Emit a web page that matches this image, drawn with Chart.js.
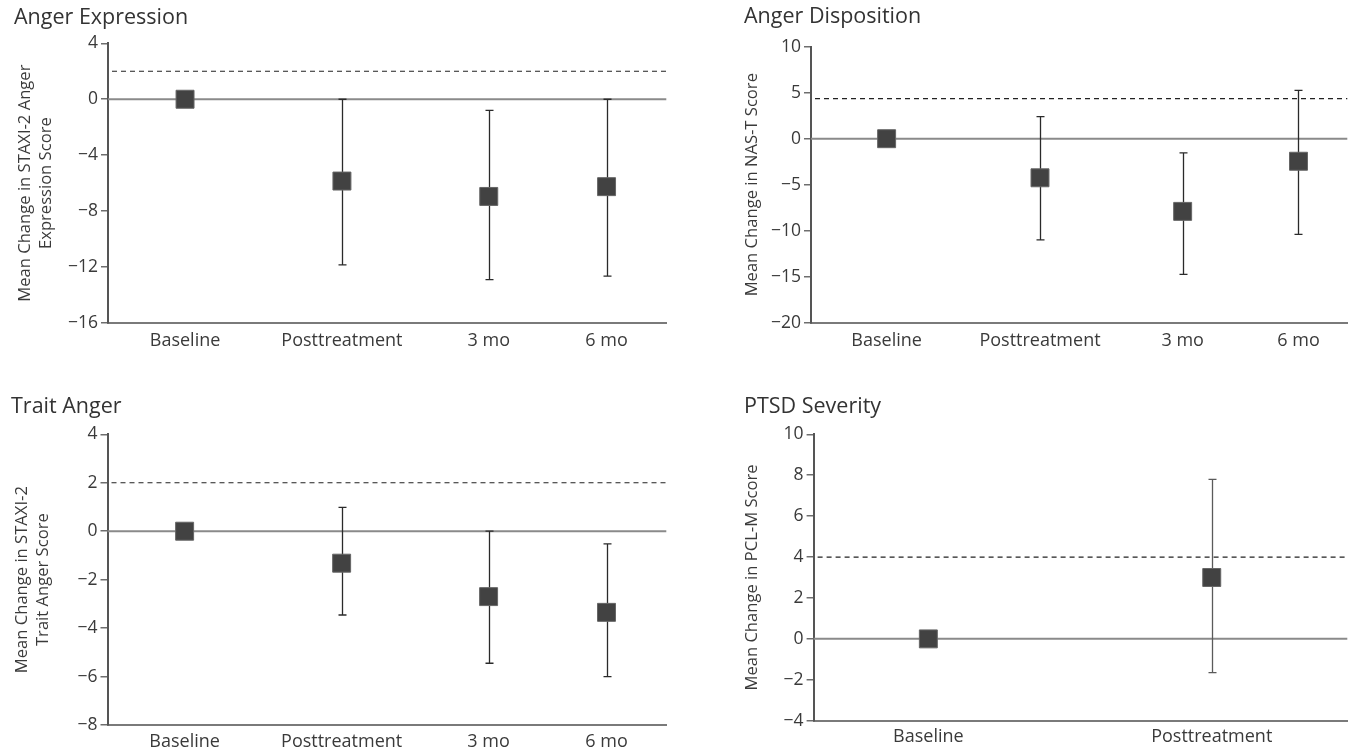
<!DOCTYPE html>
<html>
<head>
<meta charset="utf-8">
<script src="https://cdn.jsdelivr.net/npm/chart.js@4.4.1/dist/chart.umd.min.js"></script>
<style>
  body { margin: 0; background: #fff; width: 1361px; height: 751px; overflow: hidden; position: relative; }
  canvas { position: absolute; }
</style>
</head>
<body>
<canvas id="expression"></canvas>
<canvas id="disposition"></canvas>
<canvas id="trait"></canvas>
<canvas id="ptsd"></canvas>
<script>
// categories
const timepoints = ["Baseline", "Posttreatment", "3 mo", "6 mo"];
const ptsdTimepoints = ["Baseline", "Posttreatment"];

// Anger Expression (STAXI-2)
const expressionMean = [0, -5.85, -6.95, -6.25];
const expressionLow = [null, -11.85, -12.9, -12.65];
const expressionHigh = [null, 0, -0.8, 0];
const expressionTicks = [4, 0, -4, -8, -12, -16];
const expressionCutoff = 2;

// Anger Disposition (NAS-T)
const dispositionMean = [0, -4.25, -7.9, -2.45];
const dispositionLow = [null, -11.0, -14.75, -10.4];
const dispositionHigh = [null, 2.4, -1.55, 5.25];
const dispositionTicks = [10, 5, 0, -5, -10, -15, -20];
const dispositionCutoff = 4.35;

// Trait Anger (STAXI-2)
const traitMean = [0, -1.32, -2.7, -3.35];
const traitLow = [null, -3.46, -5.45, -6.0];
const traitHigh = [null, 0.98, 0, -0.52];
const traitTicks = [4, 2, 0, -2, -4, -6, -8];
const traitCutoff = 2;

// PTSD Severity (PCL-M)
const ptsdMean = [0, 3.0];
const ptsdLow = [null, -1.65];
const ptsdHigh = [null, 7.8];
const ptsdTicks = [10, 8, 6, 4, 2, 0, -2, -4];
const ptsdCutoff = 4;

// where the categories sit along the x axis (0-100), the original is not evenly spaced
const slots4 = [13.8, 41.9, 68.2, 89.3];
const slots4b = [14.1, 42.7, 69.3, 90.9];
const slots2 = [21.5, 74.6];

Chart.defaults.font.family = "'Open Sans', 'Noto Sans', sans-serif";
Chart.defaults.color = "#3a3a3a";

const axisGray = "#6e6e6e";

function refLines(cutoff, low, high, slots, barColor) {
  return {
    id: "refLines",
    beforeDatasetsDraw(chart) {
      const ctx = chart.ctx;
      const xs = chart.scales.x;
      const ys = chart.scales.y;
      const a = chart.chartArea;
      ctx.save();
      // zero line
      let y0 = ys.getPixelForValue(0);
      ctx.strokeStyle = "#8a8a8a";
      ctx.lineWidth = 2;
      ctx.beginPath();
      ctx.moveTo(a.left, y0);
      ctx.lineTo(a.right, y0);
      ctx.stroke();
      // cutoff
      let yc = ys.getPixelForValue(cutoff);
      ctx.strokeStyle = "#222";
      ctx.lineWidth = 1.2;
      ctx.setLineDash([5, 4]);
      ctx.beginPath();
      ctx.moveTo(a.left + 4, yc);
      ctx.lineTo(a.right, yc);
      ctx.stroke();
      ctx.setLineDash([]);
      // error bars
      ctx.strokeStyle = barColor;
      ctx.lineWidth = 1.3;
      low.forEach((lo, i) => {
        if (lo == null) return;
        let px = Math.round(xs.getPixelForValue(slots[i])) + 0.5;
        let top = ys.getPixelForValue(high[i]);
        let bot = ys.getPixelForValue(lo);
        ctx.beginPath();
        ctx.moveTo(px, top);
        ctx.lineTo(px, bot);
        ctx.moveTo(px - 4, top);
        ctx.lineTo(px + 4, top);
        ctx.moveTo(px - 4, bot);
        ctx.lineTo(px + 4, bot);
        ctx.stroke();
      });
      ctx.restore();
    }
  };
}

function Panel(id, p) {
  let cv = document.getElementById(id);
  cv.width = p.box[2];
  cv.height = p.box[3];
  cv.style.left = p.box[0] + "px";
  cv.style.top = p.box[1] + "px";

  let titleSize = 21.5;
  let titleLine = titleSize * 1.2;
  let padLeft = p.titleX - p.box[0];
  let padRight = p.box[0] + p.box[2] - p.area[1];
  let yWidth = p.area[0] - p.box[0] - padLeft;
  let xHeight = p.box[1] + p.box[3] - p.area[3];
  let titleTop = p.titleY - p.box[1] - titleLine / 2;
  let titleBottom = p.area[2] - p.box[1] - titleTop - titleLine;

  let points = p.mean.map((v, i) => ({ x: p.slots[i], y: v }));

  new Chart(cv, {
    type: "scatter",
    data: {
      datasets: [{
        data: points,
        pointStyle: "rect",
        pointRadius: 12.7,
        pointHoverRadius: 12.7,
        backgroundColor: "#424242",
        borderColor: "#666",
        borderWidth: 1
      }]
    },
    options: {
      responsive: false,
      animation: false,
      devicePixelRatio: 1,
      layout: { padding: { left: padLeft, right: padRight, top: 0, bottom: 0 } },
      plugins: {
        legend: { display: false },
        tooltip: { enabled: false },
        title: {
          display: true,
          text: p.title,
          align: "start",
          color: "#333",
          font: { size: titleSize, weight: "normal", lineHeight: 1.2 },
          padding: { top: titleTop, bottom: titleBottom }
        }
      },
      scales: {
        x: {
          type: "linear",
          min: 0,
          max: 100,
          afterBuildTicks: s => { s.ticks = p.slots.map(v => ({ value: v })); },
          afterFit: s => { s.height = xHeight; },
          grid: { display: false, drawTicks: false },
          border: { display: true, color: "#7a7a7a", width: 2 },
          ticks: {
            padding: p.xPad,
            autoSkip: false,
            maxRotation: 0,
            font: { size: 18 },
            callback: (v, i) => p.labels[i]
          }
        },
        y: {
          type: "linear",
          min: p.ticks[p.ticks.length - 1],
          max: p.ticks[0],
          afterBuildTicks: s => { s.ticks = p.ticks.map(v => ({ value: v })); },
          afterFit: s => { s.width = yWidth; },
          grid: { display: true, drawOnChartArea: false, drawTicks: true, tickLength: 7, color: axisGray, lineWidth: 1.5 },
          border: { display: true, color: "#555", width: 2 },
          ticks: {
            padding: 3,
            font: { size: 17.5 },
            callback: v => String(v).replace("-", "\u2212")
          },
          title: {
            display: true,
            text: p.yTitle,
            color: "#3a3a3a",
            font: { size: 16.6, lineHeight: p.yTitle.length > 1 ? 1.3 : 1.0 },
            padding: { top: 0, bottom: 0 }
          }
        }
      }
    },
    plugins: [refLines(p.cutoff, p.low, p.high, p.slots, p.barColor)]
  });
}

Panel("expression", {
  box: [0, 0, 680, 370], area: [108, 667, 43.3, 323], titleX: 14, titleY: 18,
  title: "Anger Expression",
  yTitle: ["Mean Change in STAXI-2 Anger", "Expression Score"],
  labels: timepoints, slots: slots4, ticks: expressionTicks,
  mean: expressionMean, low: expressionLow, high: expressionHigh, cutoff: expressionCutoff,
  barColor: "#2a2a2a", xPad: 7
});

Panel("disposition", {
  box: [680, 0, 681, 370], area: [811, 1361, 46.7, 322.7], titleX: 744, titleY: 17,
  title: "Anger Disposition",
  yTitle: ["Mean Change in NAS-T Score"],
  labels: timepoints, slots: slots4b, ticks: dispositionTicks,
  mean: dispositionMean, low: dispositionLow, high: dispositionHigh, cutoff: dispositionCutoff,
  barColor: "#2a2a2a", xPad: 7
});

Panel("trait", {
  box: [0, 380, 680, 371], area: [107.5, 667, 434.3, 725], titleX: 11, titleY: 407,
  title: "Trait Anger",
  yTitle: ["Mean Change in STAXI-2", "Trait Anger Score"],
  labels: timepoints, slots: slots4, ticks: traitTicks,
  mean: traitMean, low: traitLow, high: traitHigh, cutoff: traitCutoff,
  barColor: "#2a2a2a", xPad: 6
});

Panel("ptsd", {
  box: [680, 380, 681, 371], area: [813.6, 1361, 434.3, 720.7], titleX: 744, titleY: 407,
  title: "PTSD Severity",
  yTitle: ["Mean Change in PCL-M Score"],
  labels: ptsdTimepoints, slots: slots2, ticks: ptsdTicks,
  mean: ptsdMean, low: ptsdLow, high: ptsdHigh, cutoff: ptsdCutoff,
  barColor: "#5a5a5a", xPad: 5
});
</script>
</body>
</html>
